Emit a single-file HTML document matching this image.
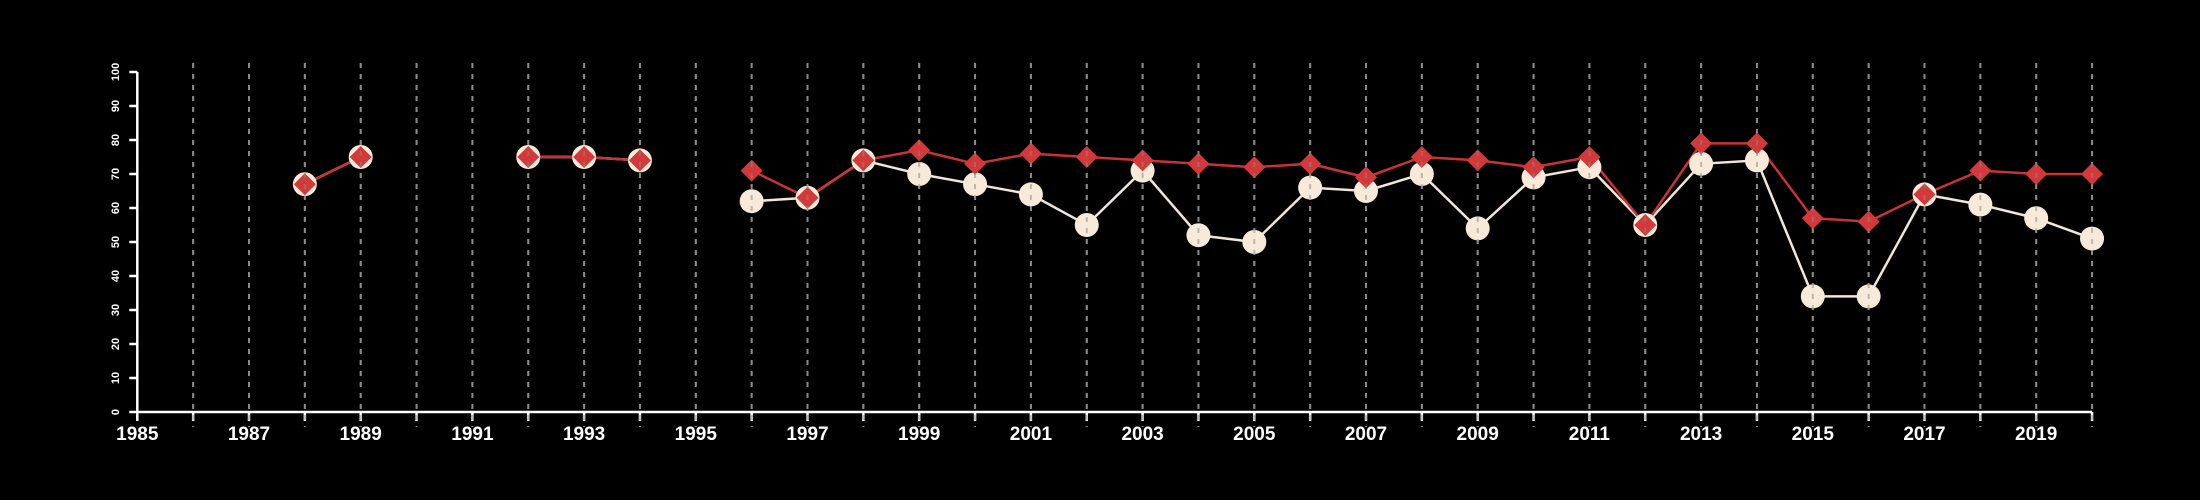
<!DOCTYPE html>
<html><head><meta charset="utf-8"><style>
html,body{margin:0;padding:0;background:#000;}
svg{display:block;}
text{font-family:"Liberation Sans",sans-serif;fill:#fff;}
</style></head><body>
<svg id="chart" width="2200" height="500" viewBox="0 0 2200 500" xmlns="http://www.w3.org/2000/svg">
<rect width="2200" height="500" fill="#000"/>
<g id="grid"></g>
<g id="axes"></g>
<g id="series"></g>
<g id="grid2"></g>
</svg>
<script>
const years = [1988,1989,1990,1991,1992,1993,1994,1995,1996,1997,1998,1999,2000,2001,2002,2003,2004,2005,2006,2007,2008,2009,2010,2011,2012,2013,2014,2015,2016,2017,2018,2019,2020];
const whiteValues = [67,75,null,null,75,75,74,null,62,63,74,70,67,64,55,71,52,50,66,65,70,54,69,72,55,73,74,34,34,64,61,57,51];
const redValues = [67,75,null,null,75,75,74,null,71,63,74,77,73,76,75,74,73,72,73,69,75,74,72,75,55,79,79,57,56,64,71,70,70];
const yTicks = [0,10,20,30,40,50,60,70,80,90,100];
const xTickLabels = [1985,1987,1989,1991,1993,1995,1997,1999,2001,2003,2005,2007,2009,2011,2013,2015,2017,2019];

const NS="http://www.w3.org/2000/svg";
const X0=137.3, XPY=55.85, Y0=412, YPU=3.4;
const xs = y => X0 + (y-1985)*XPY;
const ys = v => Y0 - v*YPU;
function mk(tag, attrs, parent){const e=document.createElementNS(NS,tag);for(const k in attrs)e.setAttribute(k,attrs[k]);parent.appendChild(e);return e;}
const grid=document.getElementById('grid'), grid2=document.getElementById('grid2'), axes=document.getElementById('axes'), series=document.getElementById('series');

for(let y=1986;y<=2020;y++){
  for(const g of [grid,grid2]){
    const l=mk('line',{x1:xs(y),x2:xs(y),y1:63,y2:427,stroke:'#8a8a8a','stroke-width':2,'stroke-dasharray':'5,6',opacity:g===grid?1:0.55},g);
    
    
  }
}
// axes
let a=mk('line',{x1:xs(1985),x2:xs(2020),y1:Y0,y2:Y0,stroke:'#fff','stroke-width':2.5},axes);


a=mk('line',{x1:X0,x2:X0,y1:ys(0),y2:ys(100),stroke:'#fff','stroke-width':2.5},axes);


for(let y=1985;y<=2020;y++){
  const t=mk('line',{x1:xs(y),x2:xs(y),y1:Y0,y2:Y0+9,stroke:'#fff','stroke-width':2.5},axes);
  
  
}
xTickLabels.forEach(y=>{
  const t=mk('text',{x:xs(y),y:440,'text-anchor':'middle','font-size':19,'font-weight':'bold'},axes);
  t.textContent=y;
  
  
});
yTicks.forEach(v=>{
  const t=mk('line',{x1:X0-8,x2:X0,y1:ys(v),y2:ys(v),stroke:'#fff','stroke-width':2.5},axes);
  
  
  const lb=mk('text',{x:0,y:0,transform:`translate(119,${ys(v)}) rotate(-90)`,'text-anchor':'middle','font-size':11,'font-weight':'bold'},axes);
  lb.textContent=v;
  
  
});
function drawLine(vals,color,name){
  let seg=[];
  const flush=()=>{if(seg.length>1){const p=mk('polyline',{points:seg.join(' '),fill:'none',stroke:color,'stroke-width':2.5},series);
    
    }seg=[];};
  vals.forEach((v,i)=>{if(v==null)flush();else seg.push(xs(years[i])+','+ys(v));});
  flush();
}
drawLine(whiteValues,'#f3e6d6','white-series-line');
drawLine(redValues,'#c93335','red-series-line');
whiteValues.forEach((v,i)=>{if(v==null)return;
  const c=mk('circle',{cx:xs(years[i]),cy:ys(v),r:12,fill:'#f8ead8'},series);
  
  
});
redValues.forEach((v,i)=>{if(v==null)return;
  const x=xs(years[i]),y=ys(v),d=11;
  const p=mk('polygon',{points:`${x},${y-d} ${x+d},${y} ${x},${y+d} ${x-d},${y}`,fill:'#d3383a'},series);
  
  
});
</script>
</body></html>
